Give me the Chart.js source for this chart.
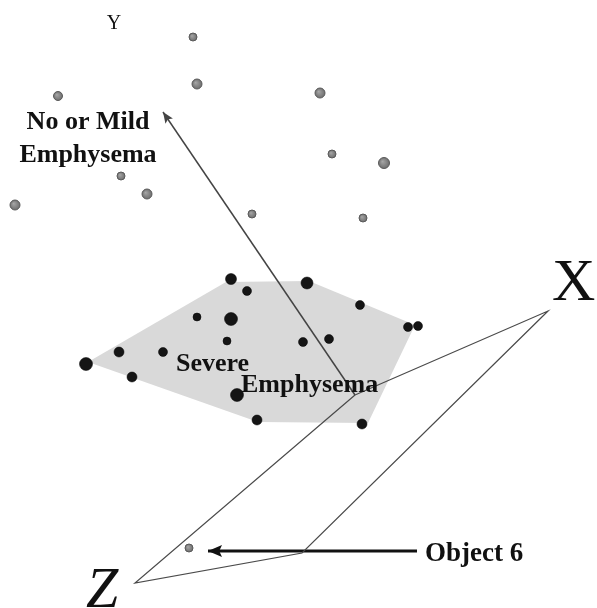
<!DOCTYPE html>
<html>
<head>
<meta charset="utf-8">
<script src="https://cdn.jsdelivr.net/npm/chart.js@4.4.0/dist/chart.umd.min.js"></script>
<style>
  html, body { margin: 0; padding: 0; background: #fff; }
  #wrap { width: 597px; height: 608px; }
</style>
</head>
<body>
<div id="wrap"><canvas id="pca" width="597" height="608"></canvas></div>
<script>
// projected positions (screen units, y grows downward)
const mildX = [193, 197, 58, 121, 147, 15, 252, 320, 332, 384, 363];
const mildY = [37, 84, 96, 176, 194, 205, 214, 93, 154, 163, 218];
const mildR = [4, 5, 4.5, 4, 5, 5, 4, 5, 4, 5.5, 4];

const severeX = [231, 247, 307, 360, 408, 418, 197, 231, 227, 303, 329, 119, 163, 86, 132, 237, 257, 362];
const severeY = [279, 291, 283, 305, 327, 326, 317, 319, 341, 342, 339, 352, 352, 364, 377, 395, 420, 424];
const severeR = [5.5, 4.5, 6, 4.5, 4.5, 4.5, 4, 6.5, 4, 4.5, 4.5, 5, 4.5, 6.5, 5, 6.5, 5, 5];

const object6 = { x: 189, y: 548 };

// convex hull of the severe group
const hullX = [88, 226, 309, 415, 368, 258, 88];
const hullY = [362, 282, 281, 325, 423, 422, 362];

// axis frame: origin -> X -> far corner -> Z -> origin
const frameX = [355, 548, 302, 135, 355];
const frameY = [395, 311, 553, 583, 395];

const yAxisX = [355, 163];
const yAxisY = [395, 112];

const pointerX = [417, 208];
const pointerY = [551, 551];

const toXY = (xs, ys) => xs.map((x, i) => ({ x: x, y: ys[i] }));

const labels = [
  { text: 'Y', x: 114, y: 29, font: '20px "Liberation Serif"', align: 'center' },
  { text: 'No or Mild', x: 88, y: 129, font: 'bold 26px "Liberation Serif"', align: 'center' },
  { text: 'Emphysema', x: 88, y: 162, font: 'bold 26px "Liberation Serif"', align: 'center' },
  { text: 'Severe', x: 176, y: 371, font: 'bold 26px "Liberation Serif"', align: 'left' },
  { text: 'Emphysema', x: 241, y: 392, font: 'bold 26px "Liberation Serif"', align: 'left' },
  { text: 'Object 6', x: 425, y: 561, font: 'bold 27px "Liberation Serif"', align: 'left' },
  { text: 'X', x: 552, y: 300, font: '60px "Liberation Serif"', align: 'left' },
  { text: 'Z', x: 86, y: 607, font: 'italic 58px "Liberation Serif"', align: 'left' }
];

// shaded sphere look for the grey markers
function sphereFill(ctx) {
  const el = ctx.element;
  if (!el || el.x === undefined) return '#888';
  const r = ctx.raw && ctx.dataIndex < mildR.length ? mildR[ctx.dataIndex] : 4;
  const g = ctx.chart.ctx.createRadialGradient(el.x - r * 0.3, el.y - r * 0.3, 0, el.x, el.y, r);
  g.addColorStop(0, '#a8a8a8');
  g.addColorStop(1, '#6e6e6e');
  return g;
}

// arrowheads at the last point of flagged datasets, then text labels
const overlay = {
  id: 'overlay',
  afterDatasetsDraw(chart) {
    const ctx = chart.ctx;
    const sx = chart.scales.x, sy = chart.scales.y;
    chart.data.datasets.forEach((ds, i) => {
      if (!ds.arrowHead) return;
      const pts = chart.getDatasetMeta(i).data;
      const a = pts[pts.length - 2], b = pts[pts.length - 1];
      const ang = Math.atan2(b.y - a.y, b.x - a.x);
      const len = ds.arrowHead.len, half = ds.arrowHead.half;
      ctx.save();
      ctx.translate(b.x, b.y);
      ctx.rotate(ang);
      ctx.beginPath();
      ctx.moveTo(0, 0);
      ctx.lineTo(-len, -half);
      ctx.lineTo(-len * 0.8, 0);
      ctx.lineTo(-len, half);
      ctx.closePath();
      ctx.fillStyle = ds.borderColor;
      ctx.fill();
      ctx.restore();
    });
    ctx.save();
    ctx.fillStyle = '#111';
    ctx.textBaseline = 'alphabetic';
    labels.forEach(l => {
      ctx.font = l.font;
      ctx.textAlign = l.align;
      ctx.fillText(l.text, sx.getPixelForValue(l.x), sy.getPixelForValue(l.y));
    });
    ctx.restore();
  }
};

new Chart(document.getElementById('pca'), {
  type: 'scatter',
  data: {
    datasets: [
      {
        label: 'Severe',
        data: toXY(severeX, severeY),
        pointRadius: severeR,
        pointBackgroundColor: '#151515',
        pointBorderColor: '#000',
        pointBorderWidth: 0.5,
        order: 0
      },
      {
        label: 'No or Mild',
        data: toXY(mildX, mildY).concat([object6]),
        pointRadius: mildR.concat([4]),
        pointBackgroundColor: sphereFill,
        pointBorderColor: '#5a5a5a',
        pointBorderWidth: 1,
        order: 0
      },
      {
        label: 'frame',
        data: toXY(frameX, frameY),
        showLine: true,
        borderColor: '#4a4a4a',
        borderWidth: 1.2,
        pointRadius: 0,
        order: 1
      },
      {
        label: 'Y axis',
        data: toXY(yAxisX, yAxisY),
        showLine: true,
        borderColor: '#444',
        borderWidth: 1.5,
        pointRadius: 0,
        arrowHead: { len: 11, half: 4.5 },
        order: 1
      },
      {
        label: 'pointer',
        data: toXY(pointerX, pointerY),
        showLine: true,
        borderColor: '#111',
        borderWidth: 3,
        pointRadius: 0,
        arrowHead: { len: 14, half: 6 },
        order: 1
      },
      {
        label: 'hull',
        data: toXY(hullX, hullY),
        showLine: true,
        fill: 'shape',
        backgroundColor: '#d9d9d9',
        borderWidth: 0,
        borderColor: 'rgba(0,0,0,0)',
        pointRadius: 0,
        order: 2
      }
    ]
  },
  options: {
    responsive: false,
    animation: false,
    events: [],
    layout: { padding: 0, autoPadding: false },
    elements: { line: { tension: 0 } },
    datasets: { scatter: { clip: false } },
    plugins: { legend: { display: false }, tooltip: { enabled: false } },
    scales: {
      x: { type: 'linear', min: 0, max: 597, display: false },
      y: { type: 'linear', min: 0, max: 608, reverse: true, display: false }
    }
  },
  plugins: [overlay]
});
</script>
</body>
</html>
